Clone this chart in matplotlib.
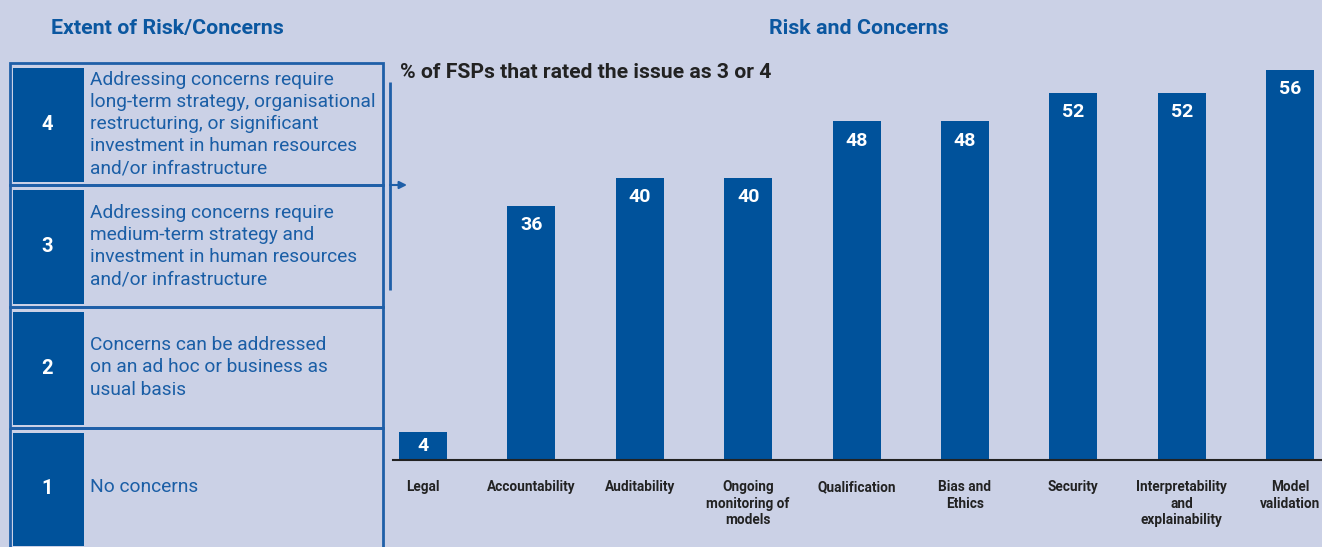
import matplotlib
matplotlib.use("Agg")
import matplotlib.pyplot as plt
from matplotlib.patches import Rectangle, FancyArrowPatch

# ---- data ----
categories = ["Legal", "Accountability", "Auditability", "Ongoing\nmonitoring of\nmodels",
              "Qualification", "Bias and\nEthics", "Security",
              "Interpretability\nand\nexplainability", "Model\nvalidation"]
values = [4, 36, 40, 40, 48, 48, 52, 52, 56]

levels = ["4", "3", "2", "1"]
level_desc = [
    "Addressing concerns require\nlong-term strategy, organisational\nrestructuring, or significant\ninvestment in human resources\nand/or infrastructure",
    "Addressing concerns require\nmedium-term strategy and\ninvestment in human resources\nand/or infrastructure",
    "Concerns can be addressed\non an ad hoc or business as\nusual basis",
    "No concerns",
]
left_title = "Extent of Risk/Concerns"
right_title = "Risk and Concerns"
subtitle = "% of FSPs that rated the issue as 3 or 4"

# ---- style ----
BG = "#CBD1E6"
BAR = "#00529B"
BLUE_TXT = "#1A5EA6"
TITLE = "#0B57A0"
DARK = "#222222"
FONT = "Roboto"
plt.rcParams['font.family'] = [FONT, 'DejaVu Sans']

W, H = 1322, 547
fig = plt.figure(figsize=(W / 100, H / 100), dpi=100, facecolor=BG)

# overlay axes in pixel coordinates for the left panel
ov = fig.add_axes([0, 0, 1, 1], facecolor="none")
ov.set_xlim(0, W)
ov.set_ylim(H, 0)
ov.axis("off")

ov.text(167, 28.5, left_title, ha="center", va="center", fontsize=15.4,
        fontweight="bold", color=TITLE)
ov.text(859, 28.5, right_title, ha="center", va="center", fontsize=15.4,
        fontweight="bold", color=TITLE)
ov.text(400, 73, subtitle, ha="left", va="center", fontsize=15.2,
        fontweight="semibold", color=DARK)

# panel rows
row_edges = [63, 185, 307, 428, 560]
LINE = "#1F5FA8"
for i, (lev, desc) in enumerate(zip(levels, level_desc)):
    y0, y1 = row_edges[i], row_edges[i + 1]
    ov.add_patch(Rectangle((10, y0), 373, y1 - y0, fill=False, edgecolor=LINE,
                           linewidth=2, clip_on=False))
    ov.add_patch(Rectangle((13, y0 + 5), 71, min(y1, 549) - y0 - 8, facecolor=BAR,
                           edgecolor="none", clip_on=False))
    yc = (y0 + min(y1, 547)) / 2
    ov.text(47, yc + 1, lev, ha="center", va="center", fontsize=14.5,
            fontweight="bold", color="white")
    ov.text(90, yc, desc, ha="left", va="center", fontsize=13.8,
            color=BLUE_TXT, linespacing=1.3)

# bracket + arrow
ov.plot([390, 390], [82, 290], color=LINE, linewidth=2, solid_capstyle="butt")
ov.add_patch(FancyArrowPatch((390, 185), (407, 185), arrowstyle="-|>",
                             mutation_scale=11, color=LINE, linewidth=1.5,
                             shrinkA=0, shrinkB=0))

# ---- bar chart ----
ax_h_px = 460 - 70
ax = fig.add_axes([393 / W, (H - 460) / H, 1 - 393 / W, ax_h_px / H])
ax.set_facecolor("none")
x = list(range(len(categories)))
top = 55.25
ax.bar(x, values, width=0.443, color=BAR, zorder=2)
ax.set_xlim(-0.277, 8.295)
ax.set_ylim(0, top)
px = top / ax_h_px  # data units per pixel
for xi, v in zip(x, values):
    vt = min(v, top)
    ly = max(vt - 19.5 * px, v / 2)
    ax.text(xi, ly, str(v), ha="center", va="center", fontsize=14,
            fontweight="bold", color="white")
for s in ["top", "right", "left"]:
    ax.spines[s].set_visible(False)
ax.spines["bottom"].set_color(DARK)
ax.spines["bottom"].set_linewidth(1.5)
ax.set_yticks([])
ax.set_xticks(x)
ax.set_xticklabels(categories, fontsize=9.8, fontweight="bold", color=DARK,
                   linespacing=1.22, va="top")
ax.tick_params(axis="x", length=0, pad=14.5)

fig.savefig("out.png", dpi=100, facecolor=BG)
